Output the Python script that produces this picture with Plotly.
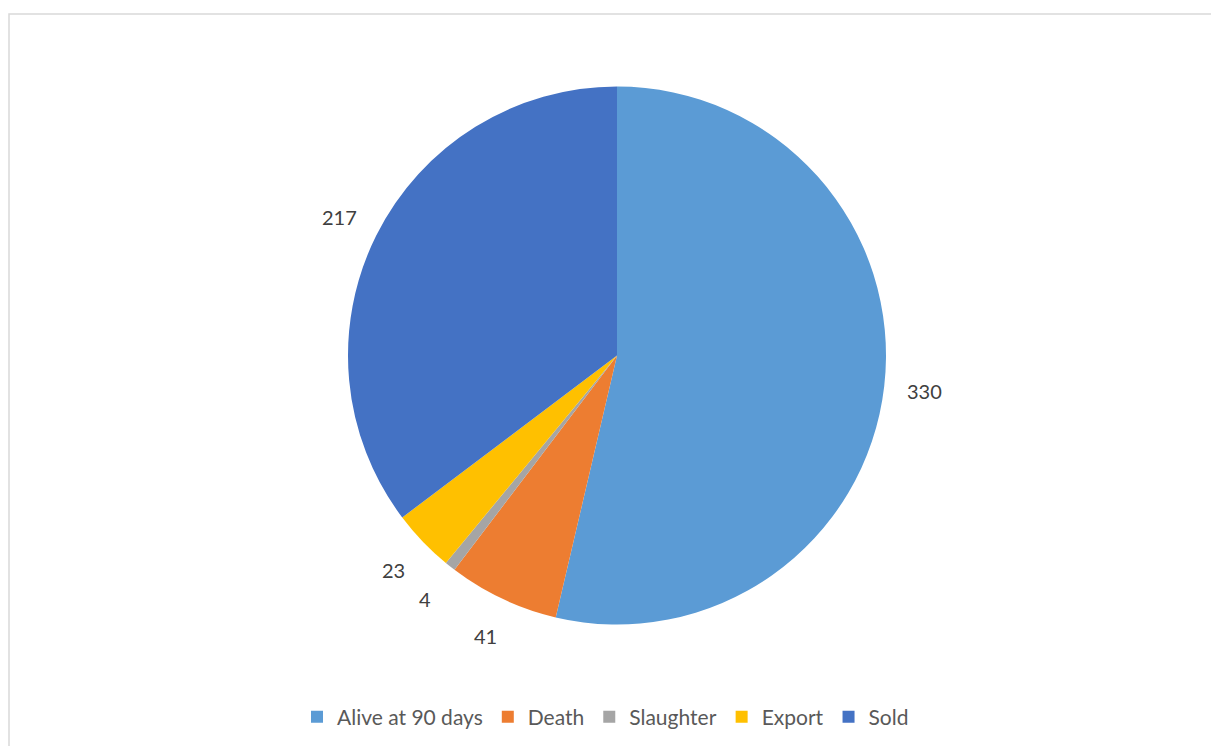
import math
import plotly.graph_objects as go

categories = ["Alive at 90 days", "Death", "Slaughter", "Export", "Sold"]
values = [330, 41, 4, 23, 217]
colors = ["#5b9bd5", "#ed7d31", "#a5a5a5", "#ffc000", "#4472c4"]

W, H = 1211, 746
CX, CY, R = 617, 355.5, 269
LABEL_R = 310

fig = go.Figure()
fig.add_trace(go.Pie(
    labels=categories,
    values=values,
    sort=False,
    direction="clockwise",
    rotation=0,
    textinfo="none",
    hoverinfo="label+value",
    marker=dict(colors=colors, line=dict(width=0)),
    domain=dict(x=[(CX - R) / W, (CX + R) / W], y=[1 - (CY + R) / H, 1 - (CY - R) / H]),
))

total = sum(values)
cum = 0
annotations = []
for cat, v in zip(categories, values):
    mid = (cum + v / 2) / total
    cum += v
    th = 2 * math.pi * mid
    px = CX + LABEL_R * math.sin(th)
    py = CY - LABEL_R * math.cos(th)
    annotations.append(dict(
        x=px / W, y=1 - py / H, xref="paper", yref="paper",
        text=str(v), showarrow=False,
        font=dict(family="Lato, Open Sans, sans-serif", size=20, color="#404040"),
        xanchor="center", yanchor="middle",
    ))

fig.update_layout(
    width=W, height=H,
    margin=dict(l=0, r=0, t=0, b=0),
    paper_bgcolor="white",
    plot_bgcolor="white",
    showlegend=True,
    legend=dict(
        orientation="h", x=0.5, xanchor="center", y=1 - 717 / H, yanchor="middle",
        font=dict(family="Lato, Open Sans, sans-serif", size=21, color="#595959"),
        itemwidth=30, traceorder="normal",
    ),
    annotations=annotations,
    shapes=[dict(
        type="path", xref="paper", yref="paper",
        path=f"M {9/W},0 L {9/W},{1-14/H} L 1,{1-14/H}",
        line=dict(color="#d9d9d9", width=1.5),
    )],
)

fig.write_html("out.html")
